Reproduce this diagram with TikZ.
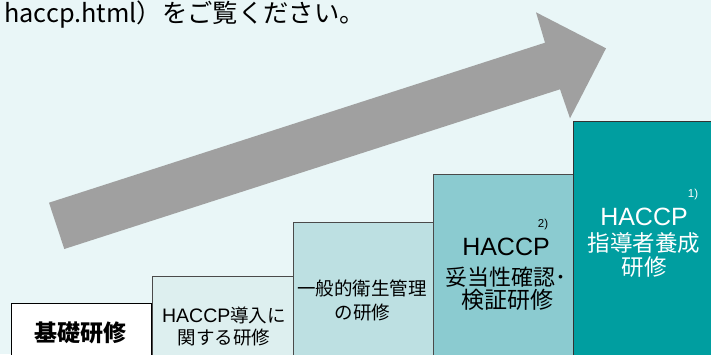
\documentclass[tikz,border=0pt]{standalone}
\usepackage{fontspec}
\setmainfont{Noto Sans CJK JP}
\newfontfamily\lat{Liberation Sans}
\definecolor{bgc}{HTML}{E9F6F7}
\definecolor{arrowc}{HTML}{A0A0A0}
\definecolor{lvA}{HTML}{DDEFEF}
\definecolor{lvB}{HTML}{BDE0E2}
\definecolor{lvC}{HTML}{8BCBD0}
\definecolor{lvD}{HTML}{009EA0}
\definecolor{edgec}{HTML}{4A4A4A}
\tikzset{
  x=1pt,y=1pt,
  stepbox/.style={draw=edgec,line width=0.9pt,anchor=south west,inner sep=0pt},
  lbl/.style={inner sep=0pt,anchor=center,text=black},
  wlbl/.style={inner sep=0pt,anchor=center,text=white},
  sup/.style={inner sep=0pt,anchor=center,font=\lat\fontsize{11.5}{11.5}\selectfont},
}
\begin{document}
\begin{tikzpicture}
\useasboundingbox (0,0) rectangle (711,354);
\fill[bgc] (0,0) rectangle (711,354);
\clip (0,0) rectangle (711,354);

% top text
\node[inner sep=0pt,anchor=base west,font=\fontsize{25.3}{26}\selectfont] (toptext) at (4,331) {haccp.html）をご覧ください。};

% arrow
\fill[arrowc] (49,151.3) -- (545,311.3) -- (536,341.7) -- (606,305.7) -- (570,235.7) -- (560,264.7) -- (64.3,105) -- cycle;

% boxes
\node[stepbox,draw=black,fill=white,minimum width=140,minimum height=60] (b1) at (11,-10) {};
\node[stepbox,fill=lvA,minimum width=141,minimum height=87] (b2) at (151.5,-10) {};
\node[stepbox,fill=lvB,minimum width=141,minimum height=140.7] (b3) at (292.5,-10) {};
\node[stepbox,fill=lvC,minimum width=140,minimum height=189] (b4) at (433.3,-10) {};
\node[stepbox,draw=black!80,fill=lvD,minimum width=150,minimum height=242.3] (b5) at (573,-10) {};

% labels
\node[lbl,font=\bfseries\fontsize{23}{23}\selectfont] (t1) at (80,21) {基礎研修};
\node[lbl,font=\fontsize{18.5}{18.5}\selectfont] (t2a) at (224,39) {{\lat\fontsize{19.5}{19.5}\selectfont HACCP}導入に};
\node[lbl,font=\fontsize{18.5}{18.5}\selectfont] (t2b) at (224,17) {関する研修};
\node[lbl,font=\fontsize{18.5}{18.5}\selectfont] (t3a) at (362,66) {一般的衛生管理};
\node[lbl,font=\fontsize{18.5}{18.5}\selectfont] (t3b) at (362.5,42) {の研修};
\node[lbl,font=\lat\fontsize{25}{25}\selectfont] (t4a) at (506,107) {HACCP};
\node[lbl,font=\fontsize{22}{22}\selectfont] (t4b) at (505.5,77) {妥当性確認･};
\node[lbl,font=\fontsize{23}{23}\selectfont] (t4c) at (507,54) {検証研修};
\node[sup] (s2) at (543,129) {2)};
\node[wlbl,font=\lat\fontsize{25}{25}\selectfont] (t5a) at (644,137) {HACCP};
\node[wlbl,font=\fontsize{22.5}{22.5}\selectfont] (t5b) at (644,111) {指導者養成};
\node[wlbl,font=\fontsize{22.5}{22.5}\selectfont] (t5c) at (644,87) {研修};
\node[sup,text=white] (s1) at (693,159) {1)};
\end{tikzpicture}
\end{document}
